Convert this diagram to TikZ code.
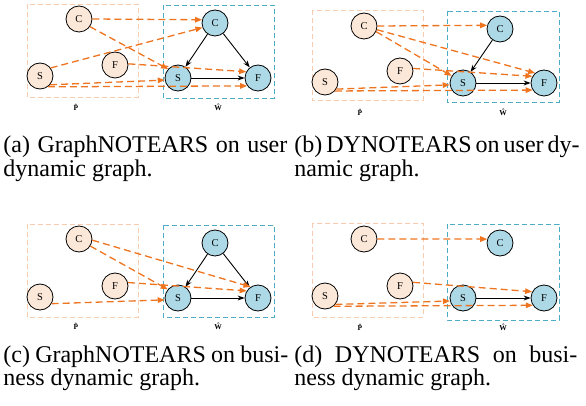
\documentclass[tikz,border=0pt]{standalone}
\usepackage{amsmath}
\usepackage{fontspec}
\setmainfont{Liberation Serif}
\usetikzlibrary{arrows.meta}

\definecolor{lagorange}{HTML}{EE7420}
\definecolor{pastfill}{HTML}{FCE8D8}
\definecolor{nowfill}{HTML}{ADD8E6}
\definecolor{pboxcol}{HTML}{F8CBAD}
\definecolor{wboxcol}{HTML}{4BACC6}

\begin{document}
\begin{tikzpicture}[x=1pt,y=-1pt,thick,
  past/.style={circle, draw, line width=0.8pt, fill=pastfill, minimum size=26pt, inner sep=0pt, font=\fontsize{10.5}{12}\selectfont},
  now/.style={past, fill=nowfill},
  lag/.style={-{Triangle[length=7pt,width=5.5pt]}, lagorange, line width=1.3pt, dash pattern=on 7pt off 4pt},
  intra/.style={-{Stealth[length=7pt,width=5pt]}, black, line width=0.9pt},
  pbox/.style={draw=pboxcol, line width=0.9pt, dash pattern=on 5pt off 3pt},
  wbox/.style={draw=wboxcol, line width=0.9pt, dash pattern=on 5pt off 3pt},
  mlabel/.style={inner sep=0pt, font=\fontsize{7.5}{8}\selectfont\bfseries},
  capt/.style={anchor=base west, inner sep=0pt, font=\fontsize{24}{25}\selectfont}]
  \useasboundingbox (0,0) rectangle (586,406);

  % (a) GraphNOTEARS, user graph
  \draw[pbox] (27,4) rectangle (138,97);
  \draw[wbox] (163,5) rectangle (274,98);
  \node[mlabel] (pa) at (76,107) {\^P};
  \node[mlabel] (wa) at (218,107) {\^W};
  \node[past] (acp) at (79,19) {C};
  \node[past] (afp) at (115,65) {F};
  \node[past] (asp) at (40,76) {S};
  \node[now] (acw) at (215,23) {C};
  \node[now] (asw) at (178,78) {S};
  \node[now] (afw) at (258,78) {F};
  \draw[intra] (acw) -- (asw);
  \draw[intra] (acw) -- (afw);
  \draw[intra] (asw) -- (afw);
  \draw[lag] (acp.east) -- (acw.166);
  \draw[lag] (acp.-35) -- (asw.138);
  \draw[lag] (asp.37) -- (acw.200);
  \draw[lag] (afp.5) -- (afw.152);
  \draw[lag] (asp.-41) -- (asw.189);
  \draw[lag] (asp.-54) -- (afw.216);

  % (b) DYNOTEARS, user graph
  \draw[pbox] (312,10) rectangle (423,100);
  \draw[wbox] (447,11) rectangle (559,102);
  \node[mlabel] (pb) at (360,112) {\^P};
  \node[mlabel] (wb) at (503,112) {\^W};
  \node[past] (bcp) at (364,26) {C};
  \node[past] (bfp) at (400,71) {F};
  \node[past] (bsp) at (325,82) {S};
  \node[now] (bcw) at (500,29) {C};
  \node[now] (bsw) at (463,83) {S};
  \node[now] (bfw) at (544,83) {F};
  \draw[intra] (bcw) -- (bsw);
  \draw[intra] (bsw) -- (bfw);
  \draw[lag] (bcp.east) -- (bcw.164);
  \draw[lag] (bcp.-25) -- (bsw.148);
  \draw[lag] (bcp.-16) -- (bfw.132);
  \draw[lag] (bfp.11) -- (bfw.150);
  \draw[lag] (bsp.-32) -- (bsw.188);
  \draw[lag] (bsp.-42) -- (bfw.212);

  % (c) GraphNOTEARS, business graph
  \draw[pbox] (27,224) rectangle (138,317);
  \draw[wbox] (163,225) rectangle (274,317);
  \node[mlabel] (pc) at (76,326) {\^P};
  \node[mlabel] (wc) at (218,326) {\^W};
  \node[past] (ccp) at (79,239) {C};
  \node[past] (cfp) at (115,286) {F};
  \node[past] (csp) at (40,297) {S};
  \node[now] (ccw) at (215,243) {C};
  \node[now] (csw) at (178,298) {S};
  \node[now] (cfw) at (258,298) {F};
  \draw[intra] (ccw) -- (csw);
  \draw[intra] (ccw) -- (cfw);
  \draw[intra] (csw) -- (cfw);
  \draw[lag] (ccp.-32) -- (csw.140);
  \draw[lag] (ccp.-5) -- (cfw.124);
  \draw[lag] (cfp.15) -- (cfw.148);
  \draw[lag] (csp.-30) -- (csw.188);

  % (d) DYNOTEARS, business graph
  \draw[pbox] (312,223) rectangle (423,317);
  \draw[wbox] (447,224) rectangle (559,320);
  \node[mlabel] (pd) at (360,327) {\^P};
  \node[mlabel] (wd) at (503,327) {\^W};
  \node[past] (dcp) at (364,239) {C};
  \node[past] (dfp) at (400,286) {F};
  \node[past] (dsp) at (325,296) {S};
  \node[now] (dcw) at (500,243) {C};
  \node[now] (dsw) at (463,298) {S};
  \node[now] (dfw) at (544,298) {F};
  \draw[intra] (dsw) -- (dfw);
  \draw[lag] (dcp.east) -- (dcw.163);
  \draw[lag] (dfp.16) -- (dfw.152);
  \draw[lag] (dsp.-39) -- (dsw.193);
  \draw[lag] (dsp.-50) -- (dfw.213);

  % Captions
  \node[capt] (capa1) at (3,153) {\makebox[284pt][s]{(a)\ GraphNOTEARS on user}};
  \node[capt] (capa2) at (3,177) {dynamic graph.};
  \node[capt] (capb1) at (294,153) {\makebox[283pt][s]{(b)\ DYNOTEARS on user dy-}};
  \node[capt] (capb2) at (294,177) {namic graph.};
  \node[capt] (capc1) at (3,362) {\makebox[285pt][s]{(c)\ GraphNOTEARS on busi-}};
  \node[capt] (capc2) at (3,385) {ness dynamic graph.};
  \node[capt] (capd1) at (294,362) {\makebox[283pt][s]{(d)\ DYNOTEARS on busi-}};
  \node[capt] (capd2) at (294,385) {ness dynamic graph.};
\end{tikzpicture}
\end{document}
